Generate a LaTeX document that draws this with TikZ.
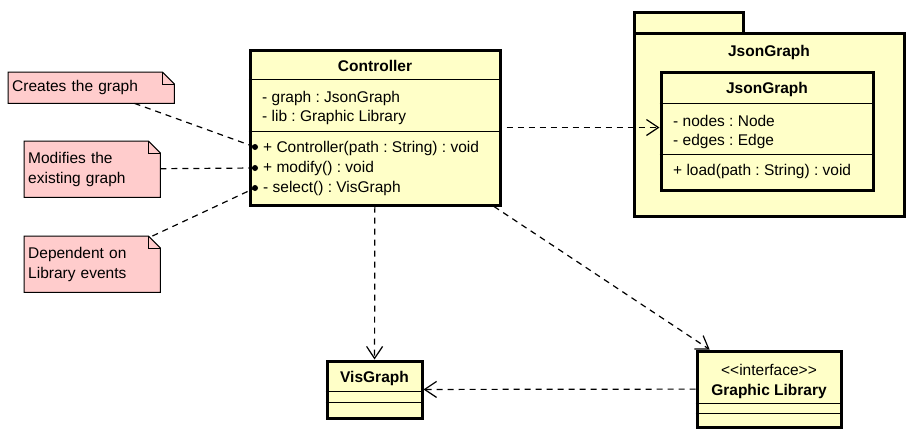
\documentclass[tikz,border=0pt]{standalone}
\usepackage{fontspec}
\setmainfont{Liberation Sans}
\usetikzlibrary{arrows.meta,backgrounds}
\definecolor{clsfill}{RGB}{255,255,200}
\definecolor{notefill}{RGB}{255,204,204}
\tikzset{
  cls/.style={draw=black, line width=3pt, fill=clsfill, inner sep=0pt},
  div/.style={draw=black, line width=0.9pt},
  txt/.style={inner sep=0pt, anchor=west, font=\fontsize{15.5}{20}\selectfont},
  ttl/.style={inner sep=0pt, font=\fontsize{15.5}{20}\selectfont\bfseries},
  notebox/.style={inner sep=4pt, align=left, anchor=north west,
    font=\fontsize{15.5}{20}\selectfont},
  noteline/.style={draw=black, line width=1pt},
  dep/.style={draw=black, line width=1.2pt, dash pattern=on 6pt off 5pt,
    -{Straight Barb[length=12pt,width=16pt,line width=1.2pt]}},
  anch/.style={draw=black, line width=1.2pt, dash pattern=on 6pt off 5pt},
}
\begin{document}
\frenchspacing
\begin{tikzpicture}[x=1pt,y=-1pt]
\useasboundingbox (0,0) rectangle (916,440);

% ---------- Package JsonGraph ----------
\node[cls, minimum width=109, minimum height=21] (pkgtab) at (688.5,22.5) {};
\node[cls, minimum width=270, minimum height=183] (pkg) at (769,124.5) {};
\node[ttl] (pkgname) at (769,52) {JsonGraph};

% inner class JsonGraph
\node[cls, minimum width=212, minimum height=118] (jgc) at (767,131) {};
\node[ttl] (jgct) at (767,89) {JsonGraph};
\draw[div] (jgc.west |- 0,103) -- (jgc.east |- 0,103);
\draw[div] (jgc.west |- 0,154) -- (jgc.east |- 0,154);
\node[txt] (jga1) at (673,121) {- nodes : Node};
\node[txt] (jga2) at (673,141) {- edges : Edge};
\node[txt] (jgm1) at (673,171) {+ load(path : String) : void};

% ---------- Controller ----------
\node[cls, minimum width=250, minimum height=155] (ctrl) at (375,127.5) {};
\node[ttl] (ctrlt) at (375,66) {Controller};
\draw[div] (ctrl.west |- 0,79) -- (ctrl.east |- 0,79);
\draw[div] (ctrl.west |- 0,131) -- (ctrl.east |- 0,131);
\node[txt] (ca1) at (262,98) {- graph : JsonGraph};
\node[txt] (ca2) at (262,117) {- lib : Graphic Library};
\node[txt] (cm1) at (263,148) {+ Controller(path : String) : void};
\node[txt] (cm2) at (263,168) {+ modify() : void};
\node[txt] (cm3) at (263,188) {- select() : VisGraph};

\coordinate (d1) at (255,147);
\coordinate (d2) at (255,168);
\coordinate (d3) at (255,188);

% ---------- VisGraph ----------
\node[cls, minimum width=95, minimum height=57] (vis) at (374.5,389.5) {};
\node[ttl] (vist) at (374.5,378) {VisGraph};
\draw[div] (vis.west |- 0,391) -- (vis.east |- 0,391);
\draw[div] (vis.west |- 0,402) -- (vis.east |- 0,402);

% ---------- Graphic Library ----------
\node[cls, minimum width=144, minimum height=76] (gl) at (769,389) {};
\node[txt, anchor=center] (glst) at (769,370) {<\kern0pt<interface>\kern0pt>};
\node[ttl] (glt) at (769,391) {Graphic Library};
\draw[div] (gl.west |- 0,403) -- (gl.east |- 0,403);
\draw[div] (gl.west |- 0,413) -- (gl.east |- 0,413);

% ---------- Notes ----------
\node[notebox, minimum width=166, minimum height=31, text width=158] (n1) at (8,72) {Creates the graph};
\node[notebox, minimum width=136, minimum height=56, text width=128] (n2) at (24,141) {Modifies the\\existing graph};
\node[notebox, minimum width=136, minimum height=56, text width=128] (n3) at (24,236) {Dependent on\\Library events};
\begin{scope}[on background layer]
  \fill[white] (0,0) rectangle (916,440);
  \foreach \n in {n1,n2,n3}{
    \fill[notefill] (\n.south west) -- (\n.north west) -- ([xshift=-12pt]\n.north east)
      -- ([yshift=-12pt]\n.north east) -- (\n.south east) -- cycle;
  }
\end{scope}
\foreach \n in {n1,n2,n3}{
  \draw[noteline] (\n.south west) -- (\n.north west) -- ([xshift=-12pt]\n.north east)
    -- ([yshift=-12pt]\n.north east) -- (\n.south east) -- cycle;
  \draw[noteline] ([xshift=-12pt]\n.north east) -- ([xshift=-12pt,yshift=-12pt]\n.north east)
    -- ([yshift=-12pt]\n.north east);
}

% ---------- connectors ----------
\draw[anch] (n1) -- (d1);
\draw[anch] (n2) -- (d2);
\draw[anch] (n3) -- (d3);
\fill (d1) circle[radius=3pt];
\fill (d2) circle[radius=3pt];
\fill (d3) circle[radius=3pt];

\draw[dep] ([xshift=5pt]ctrl.east) -- (ctrl.east -| jgc.west);
\draw[dep] (ctrl) -- (vis);
\draw[dep] (ctrl) -- (gl);
\draw[dep] (gl) -- (vis);
\end{tikzpicture}
\end{document}
